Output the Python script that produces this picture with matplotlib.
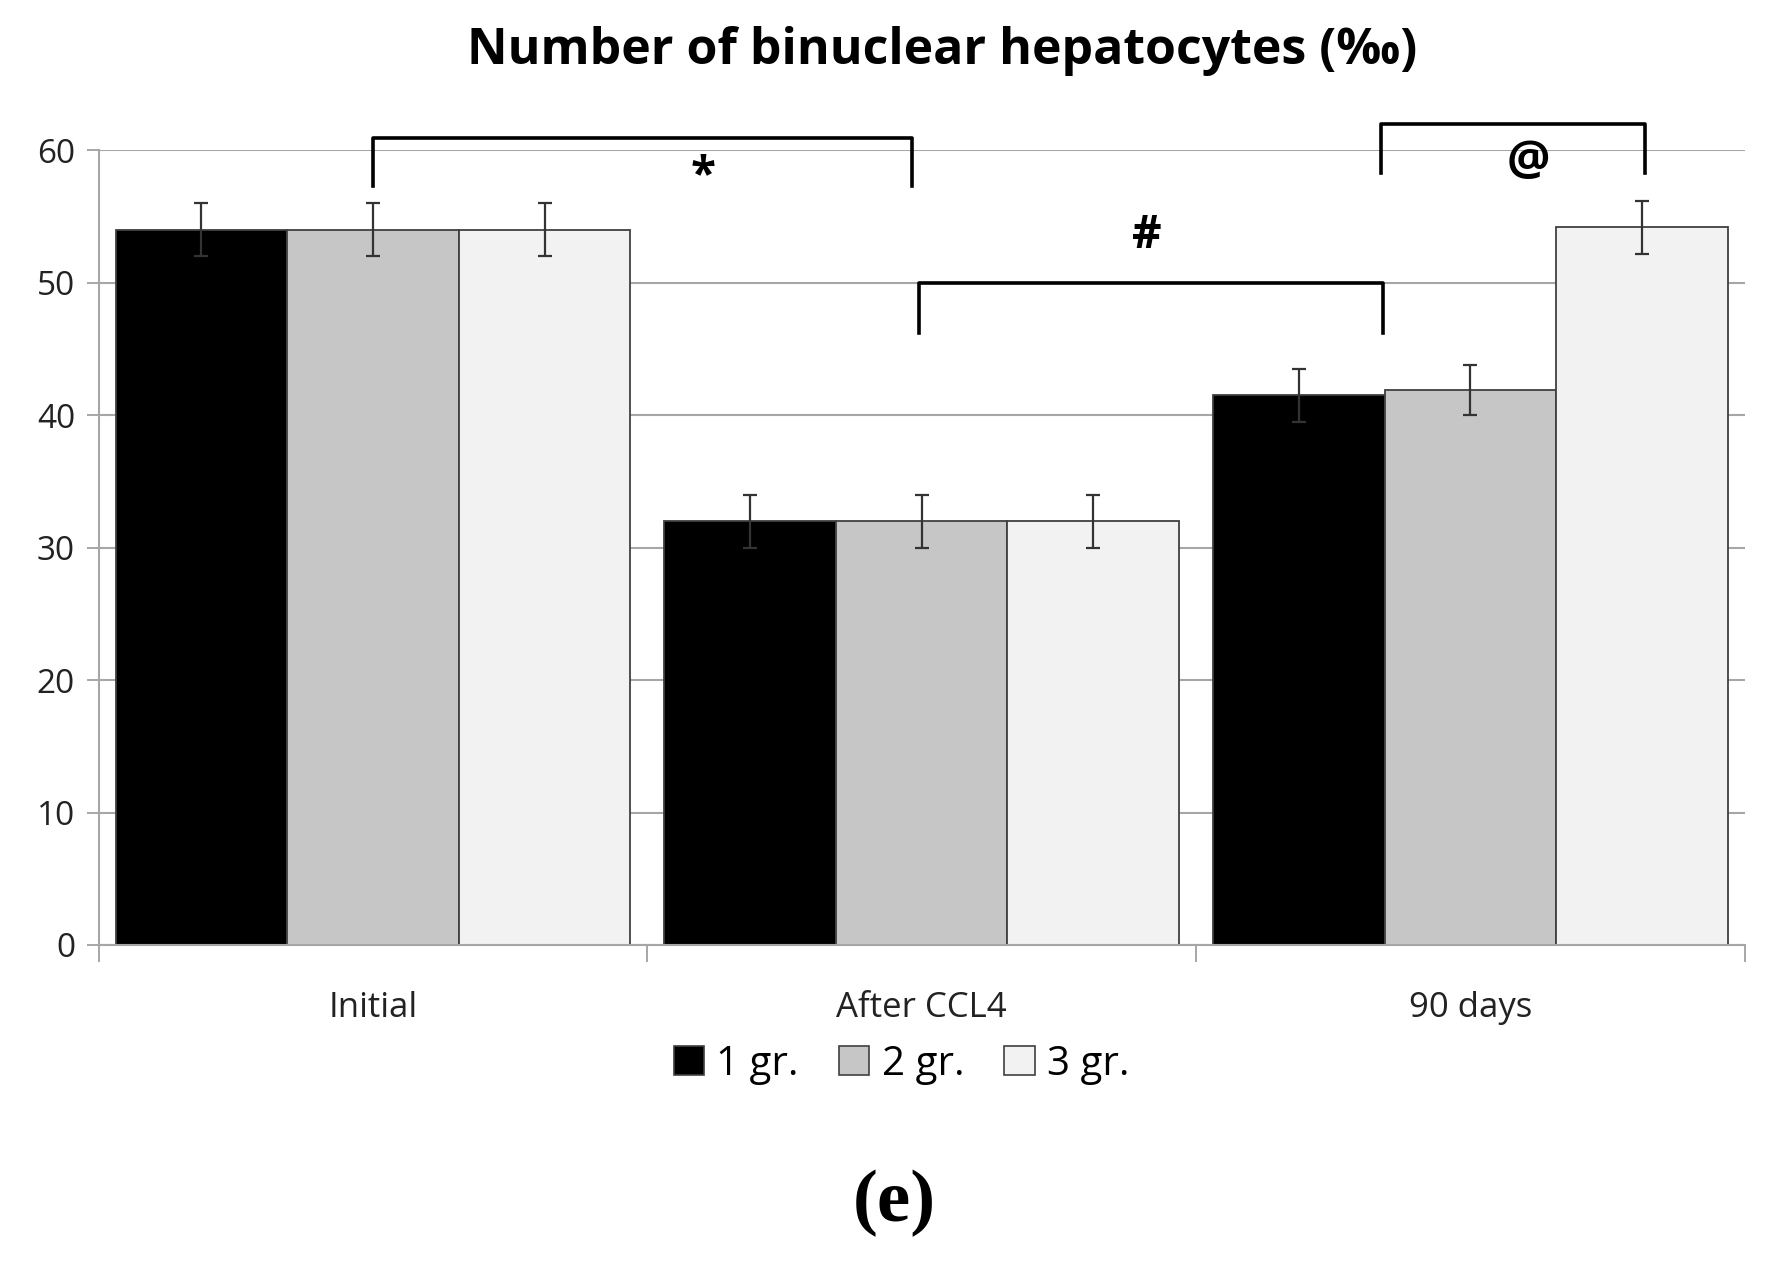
import numpy as np
import matplotlib.pyplot as plt
from matplotlib.patches import Patch

# data
categories = ["Initial", "After CCL4", "90 days"]
groups = ["1 gr.", "2 gr.", "3 gr."]
gr1 = [54.0, 32.0, 41.5]
gr2 = [54.0, 32.0, 41.9]
gr3 = [54.0, 32.0, 54.2]
err1 = [2.0, 2.0, 2.0]
err2 = [2.0, 2.0, 1.9]
err3 = [2.0, 2.0, 2.0]

colors = ["#000000", "#c6c6c6", "#f2f2f2"]
W = 0.3127

plt.rcParams['font.family'] = ['Open Sans', 'DejaVu Sans']

fig = plt.figure(figsize=(17.68, 12.64), dpi=100)
ax = fig.add_axes([0.0558, 0.2524, 0.931, 0.6286])

x = np.arange(len(categories))
for i, (vals, errs) in enumerate(zip([gr1, gr2, gr3], [err1, err2, err3])):
    pos = x + (i - 1) * W
    ax.bar(pos, vals, W, color=colors[i], edgecolor="#404040", linewidth=1.3,
           label=groups[i], zorder=2)
    ax.errorbar(pos, vals, yerr=errs, fmt="none", ecolor="#333333",
                elinewidth=1.6, capsize=5, capthick=1.6, zorder=3)

ax.set_xlim(-0.5, 2.5)
ax.set_ylim(0, 60)
ax.set_yticks(np.arange(0, 61, 10))
ax.yaxis.grid(True, color="#a6a6a6", linewidth=1.5, zorder=0)
ax.set_axisbelow(True)

ax.set_xticks(x)
ax.set_xticklabels(categories, fontsize=25, color="#222222")
ax.set_xticks([-0.5, 0.5, 1.5, 2.5], minor=True)
ax.tick_params(axis="x", which="major", length=0, pad=33)
ax.tick_params(axis="x", which="minor", length=12, width=1.3, color="#a0a0a0")
ax.tick_params(axis="y", length=9, width=1.3, color="#a0a0a0", labelsize=24,
               labelcolor="#222222", pad=8)

for s in ["top", "right"]:
    ax.spines[s].set_visible(False)
ax.spines["left"].set_color("#a6a6a6")
ax.spines["left"].set_linewidth(1.5)
ax.spines["bottom"].set_color("#a6a6a6")
ax.spines["bottom"].set_linewidth(1.5)


def bracket(x0, x1, ytop, ybot0, ybot1):
    ax.plot([x0, x0, x1, x1], [ybot0, ytop, ytop, ybot1], color="black",
            linewidth=2.6, clip_on=False, zorder=4, solid_joinstyle="round")


bracket(0.0, 0.983, 60.9, 57.3, 57.3)
bracket(0.996, 1.841, 50.0, 46.2, 46.2)
bracket(1.837, 2.318, 62.0, 58.3, 58.3)

ax.text(0.602, 58.0, "*", fontsize=33, fontweight="bold", ha="center", va="center")
ax.text(1.41, 53.6, "#", fontsize=33, fontweight="bold", ha="center", va="center")
ax.text(2.105, 59.0, "@", fontsize=35, fontweight="bold", ha="center", va="center")

fig.text(0.533, 0.96, "Number of binuclear hepatocytes (‰)", fontsize=36,
         fontweight="bold", ha="center", va="center")

handles = [Patch(facecolor=c, edgecolor="#404040", linewidth=1.2) for c in colors]
fig.legend(handles, groups, loc="center", bbox_to_anchor=(0.51, 0.158), ncol=3,
           frameon=False, fontsize=29, handlelength=0.75, handleheight=0.75,
           handletextpad=0.3, columnspacing=1.0)

fig.text(0.506, 0.048, "(e)", fontsize=54, fontweight="bold",
         family=["Liberation Serif", "DejaVu Serif"], ha="center", va="center")

fig.savefig("out.png", dpi=100)
